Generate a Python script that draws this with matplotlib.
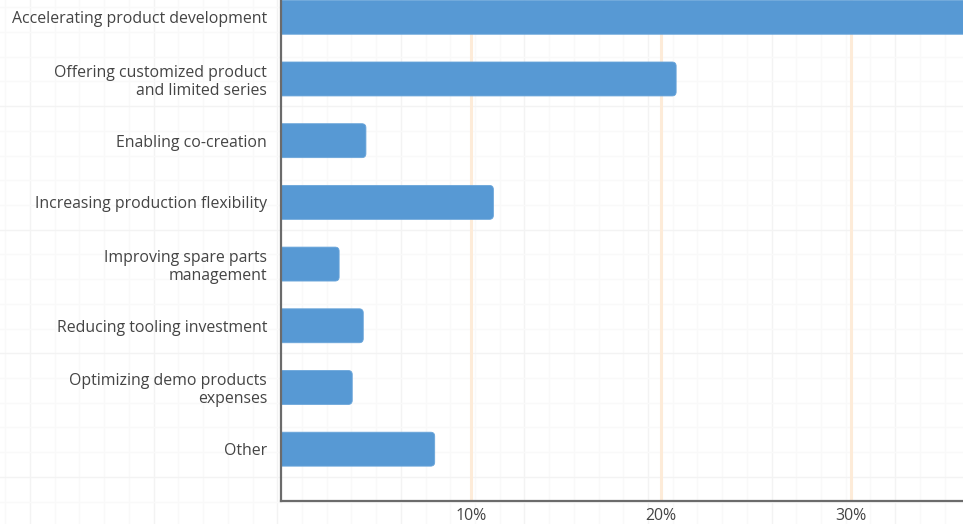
import matplotlib.pyplot as plt
from matplotlib.patches import FancyBboxPatch

plt.rcParams['font.family'] = ['Open Sans', 'DejaVu Sans']

# Share of respondents per benefit (%)
categories = [
    'Accelerating product development',
    'Offering customized product\nand limited series',
    'Enabling co-creation',
    'Increasing production flexibility',
    'Improving spare parts\nmanagement',
    'Reducing tooling investment',
    'Optimizing demo products\nexpenses',
    'Other',
]
values = [38.0, 20.8, 4.47, 11.18, 3.06, 4.33, 3.75, 8.09]
xticks = [10, 20, 30]
xtick_labels = ['10%', '20%', '30%']

W, H = 963, 524
fig = plt.figure(figsize=(W / 100, H / 100), dpi=100)

# faint paper grid behind everything
bg = fig.add_axes([0, 0, 1, 1], zorder=0)
bg.set_xlim(0, W)
bg.set_ylim(H, 0)
bg.axis('off')
step = 24.72
for k in range(-2, 45):
    x = 5.3 + k * step
    bg.axvline(x, color='#f3f3f3' if k % 5 == 1 else '#f9f9f9', lw=1.0)
for k in range(-2, 25):
    y = 7.2 + k * step
    bg.axhline(y, color='#f3f3f3' if k % 5 == 4 else '#f9f9f9', lw=1.0)

left, right, bottom_px = 281, W, 501
ax = fig.add_axes([left / W, (H - bottom_px) / H, (right - left) / W, bottom_px / H], zorder=1)
ax.set_facecolor('none')

y = list(range(len(categories)))
bars = ax.barh(y, values, height=0.55, left=-0.4, color='#5799d4')

ax.set_xlim(0, 35.9)
ax.set_ylim(7.84, -0.28)

# swap plain bars for rounded ones
xpx = (right - left) / 35.9
ypx = bottom_px / (7.84 + 0.28)
for b in bars:
    x0, y0 = b.get_x(), b.get_y()
    w, h = b.get_width(), b.get_height()
    b.remove()
    ax.add_patch(FancyBboxPatch((x0, y0), w + 0.4, h,
                                boxstyle='round,pad=0,rounding_size=%.3f' % (4 / xpx),
                                mutation_aspect=xpx / ypx,
                                facecolor='#5799d4', edgecolor='#6aa5da', lw=0.6,
                                zorder=3))

for t in xticks:
    ax.axvline(t, color='#fdebd8', lw=2.2, zorder=1)

ax.set_yticks(y)
ax.set_yticklabels(categories, fontsize=11.4, color='#444444')
ax.set_xticks(xticks)
ax.set_xticklabels(xtick_labels, fontsize=11.4, color='#444444')
ax.tick_params(axis='y', length=0, pad=10)
ax.tick_params(axis='x', length=0, pad=5)
for lbl in ax.get_yticklabels():
    lbl.set_linespacing(1.15)

for s in ['top', 'right']:
    ax.spines[s].set_visible(False)
for s in ['left', 'bottom']:
    ax.spines[s].set_color('#6b6b6b')
    ax.spines[s].set_linewidth(1.6)
    ax.spines[s].set_zorder(5)

fig.savefig('out.png', dpi=100)
